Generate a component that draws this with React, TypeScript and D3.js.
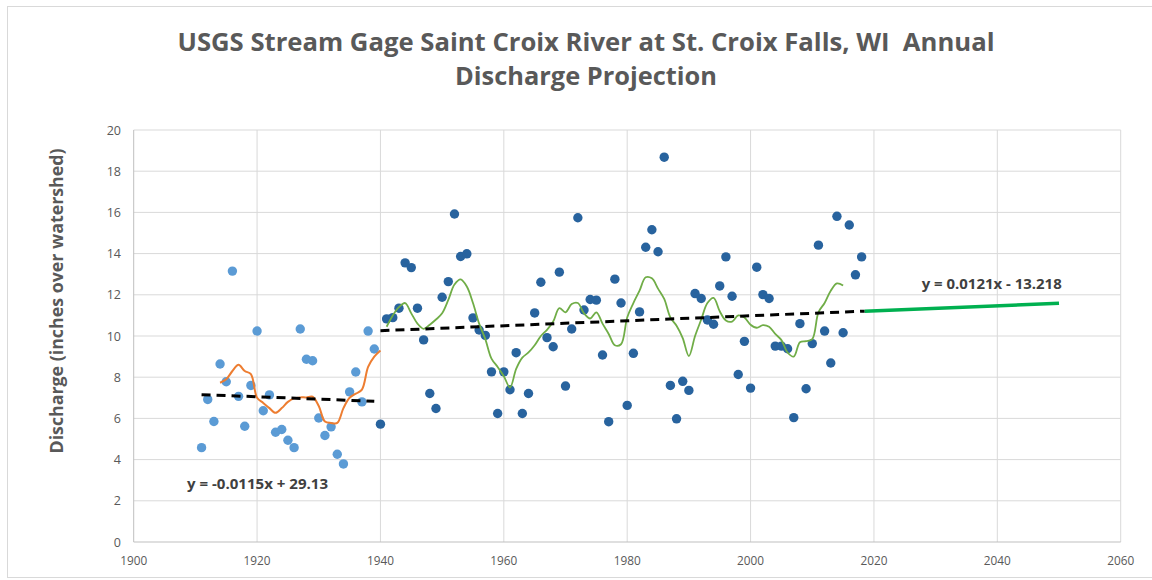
import React from 'react';
import * as d3 from 'd3';

const titleLines = ['USGS Stream Gage Saint Croix River at St. Croix Falls, WI\u00A0\u00A0Annual', 'Discharge Projection'];
const yAxisTitle = 'Discharge (inches over watershed)';

const xTicks = [1900, 1920, 1940, 1960, 1980, 2000, 2020, 2040, 2060];
const yTicks = [0, 2, 4, 6, 8, 10, 12, 14, 16, 18, 20];

const earlyYears = [1911, 1912, 1913, 1914, 1915, 1916, 1917, 1918, 1919, 1920, 1921, 1922, 1923, 1924, 1925, 1926, 1927, 1928, 1929, 1930, 1931, 1932, 1933, 1934, 1935, 1936, 1937, 1938, 1939];
const earlyValues = [4.58, 6.92, 5.85, 8.64, 7.78, 13.15, 7.07, 5.62, 7.6, 10.24, 6.37, 7.14, 5.33, 5.46, 4.94, 4.58, 10.34, 8.87, 8.8, 6.02, 5.17, 5.59, 4.26, 3.79, 7.29, 8.25, 6.8, 10.24, 9.37];

const lateYears = [1940, 1941, 1942, 1943, 1944, 1945, 1946, 1947, 1948, 1949, 1950, 1951, 1952, 1953, 1954, 1955, 1956, 1957, 1958, 1959, 1960, 1961, 1962, 1963, 1964, 1965, 1966, 1967, 1968, 1969, 1970, 1971, 1972, 1973, 1974, 1975, 1976, 1977, 1978, 1979, 1980, 1981, 1982, 1983, 1984, 1985, 1986, 1987, 1988, 1989, 1990, 1991, 1992, 1993, 1994, 1995, 1996, 1997, 1998, 1999, 2000, 2001, 2002, 2003, 2004, 2005, 2006, 2007, 2008, 2009, 2010, 2011, 2012, 2013, 2014, 2015, 2016, 2017, 2018];
const lateValues = [5.72, 10.83, 10.89, 11.35, 13.55, 13.32, 11.35, 9.81, 7.21, 6.48, 11.88, 12.64, 15.92, 13.86, 13.99, 10.88, 10.29, 10.03, 8.26, 6.24, 8.26, 7.39, 9.19, 6.24, 7.21, 11.12, 12.61, 9.92, 9.48, 13.1, 7.57, 10.34, 15.74, 11.26, 11.77, 11.74, 9.08, 5.84, 12.76, 11.6, 6.63, 9.16, 11.17, 14.31, 15.16, 14.09, 18.68, 7.6, 5.98, 7.8, 7.36, 12.06, 11.82, 10.78, 10.57, 12.43, 13.84, 11.93, 8.13, 9.74, 7.47, 13.34, 12.01, 11.82, 9.51, 9.51, 9.38, 6.04, 10.6, 7.44, 9.63, 14.41, 10.24, 8.69, 15.81, 10.16, 15.39, 12.97, 13.84];

const earlyAvgYears = [1914, 1915, 1916, 1917, 1918, 1919, 1920, 1921, 1922, 1923, 1924, 1925, 1926, 1927, 1928, 1929, 1930, 1931, 1932, 1933, 1934, 1935, 1936, 1937, 1938, 1939, 1940];
const earlyAvg = [7.73, 7.9, 8.3, 8.6, 8.3, 8.15, 7.0, 6.75, 6.5, 6.27, 6.5, 6.8, 6.97, 7.02, 7.02, 7.05, 6.6, 5.85, 5.78, 5.78, 6.5, 7.0, 7.2, 7.4, 8.5, 9.0, 9.3];

const lateAvgYears = [1941, 1942, 1943, 1944, 1945, 1946, 1947, 1948, 1949, 1950, 1951, 1952, 1953, 1954, 1955, 1956, 1957, 1958, 1959, 1960, 1961, 1962, 1963, 1964, 1965, 1966, 1967, 1968, 1969, 1970, 1971, 1972, 1973, 1974, 1975, 1976, 1977, 1978, 1979, 1980, 1981, 1982, 1983, 1984, 1985, 1986, 1987, 1988, 1989, 1990, 1991, 1992, 1993, 1994, 1995, 1996, 1997, 1998, 1999, 2000, 2001, 2002, 2003, 2004, 2005, 2006, 2007, 2008, 2009, 2010, 2011, 2012, 2013, 2014, 2015];
const lateAvg = [10.45, 11.0, 11.4, 11.6, 11.1, 10.6, 10.35, 10.55, 10.8, 11.1, 11.75, 12.5, 12.75, 12.4, 11.6, 10.6, 9.85, 8.9, 8.5, 8.05, 7.5, 8.4, 8.95, 9.2, 9.55, 10.0, 10.3, 10.7, 11.35, 11.15, 11.55, 11.6, 11.1, 10.85, 11.15, 10.6, 10.1, 9.55, 9.6, 10.9, 11.6, 12.2, 12.85, 12.8, 12.3, 11.8, 10.9, 10.5, 9.9, 9.03, 10.0, 10.8, 11.6, 11.85, 11.2, 10.75, 10.7, 11.0, 10.9, 10.55, 10.4, 10.53, 10.45, 10.1, 9.8, 9.2, 9.0, 9.7, 9.75, 9.85, 11.15, 11.6, 12.2, 12.55, 12.45];

// trendline equations
const trendEarly = { slope: -0.0115, intercept: 29.13, from: 1911, to: 1939, label: 'y = -0.0115x + 29.13' };
const trendLate = { slope: 0.0121, intercept: -13.218, from: 1940, to: 2018.5, label: 'y = 0.0121x - 13.218' };
const projection = { from: 2018.5, to: 2050 };

const W = 1152;
const H = 580;
const plot = { left: 133.7, right: 1120.7, top: 130, bottom: 542 };

export default function App() {
  const x = d3.scaleLinear().domain([1900, 2060]).range([plot.left, plot.right]);
  const y = d3.scaleLinear().domain([0, 20]).range([plot.bottom, plot.top]);

  const lineGen = d3
    .line<[number, number]>()
    .x((d) => x(d[0]))
    .y((d) => y(d[1]))
    .curve(d3.curveCatmullRom.alpha(0.5));

  const straight = d3
    .line<[number, number]>()
    .x((d) => x(d[0]))
    .y((d) => y(d[1]));

  const earlyAvgPts: [number, number][] = earlyAvgYears.map((yr, i) => [yr, earlyAvg[i]]);
  const lateAvgPts: [number, number][] = lateAvgYears.map((yr, i) => [yr, lateAvg[i]]);

  const trendPts = (t: { slope: number; intercept: number; from: number; to: number }): [number, number][] => [
    [t.from, t.slope * t.from + t.intercept],
    [t.to, t.slope * t.to + t.intercept],
  ];
  const projPts: [number, number][] = [
    [projection.from, trendLate.slope * projection.from + trendLate.intercept],
    [projection.to, trendLate.slope * projection.to + trendLate.intercept],
  ];

  const grey = '#595959';
  const font = "'Open Sans', 'Liberation Sans', sans-serif";

  return (
    <svg width={W} height={H} style={{ position: 'absolute', left: 0, top: 0, background: '#fff' }} fontFamily={font}>
      <rect x={0} y={0} width={W} height={H} fill="#fff" />
      <rect x={7.5} y={6.5} width={1160} height={571} fill="none" stroke="#D9D9D9" strokeWidth={1} />

      {/* title */}
      <text x={586} y={51} textAnchor="middle" fontSize={25} fontWeight={700} fill={grey} textLength={817} lengthAdjust="spacingAndGlyphs" style={{ whiteSpace: 'pre' }}>
        {titleLines[0]}
      </text>
      <text x={586} y={85} textAnchor="middle" fontSize={25} fontWeight={700} fill={grey} textLength={262} lengthAdjust="spacingAndGlyphs">
        {titleLines[1]}
      </text>

      {/* gridlines */}
      {yTicks.filter((t) => t > 0).map((t) => (
        <line key={'hy' + t} x1={plot.left} x2={plot.right} y1={y(t)} y2={y(t)} stroke="#D9D9D9" strokeWidth={1} />
      ))}
      {xTicks.filter((t) => t > 1900).map((t) => (
        <line key={'vx' + t} x1={x(t)} x2={x(t)} y1={plot.top} y2={plot.bottom} stroke="#D9D9D9" strokeWidth={1} />
      ))}
      {/* axes */}
      <line x1={plot.left} x2={plot.left} y1={plot.top} y2={plot.bottom} stroke="#BFBFBF" strokeWidth={1} />
      <line x1={plot.left} x2={plot.right} y1={plot.bottom} y2={plot.bottom} stroke="#BFBFBF" strokeWidth={1} />

      {/* tick labels */}
      {yTicks.map((t) => (
        <text key={'ly' + t} x={121} y={y(t) + 4.5} textAnchor="end" fontSize={12.5} fill={grey}>
          {t}
        </text>
      ))}
      {xTicks.map((t) => (
        <text key={'lx' + t} x={x(t)} y={565} textAnchor="middle" fontSize={12.5} fill={grey} textLength={27} lengthAdjust="spacingAndGlyphs">
          {t}
        </text>
      ))}

      {/* y-axis title */}
      <text
        transform={`translate(63,${(plot.top + plot.bottom) / 2 - 35}) rotate(-90)`}
        textAnchor="middle"
        fontSize={17}
        fontWeight={700}
        fill={grey}
        textLength={305}
        lengthAdjust="spacingAndGlyphs"
      >
        {yAxisTitle}
      </text>

      {/* points */}
      {earlyYears.map((yr, i) => (
        <circle key={'e' + yr} cx={x(yr)} cy={y(earlyValues[i])} r={4.7} fill="#5B9BD5" />
      ))}
      {lateYears.map((yr, i) => (
        <circle key={'l' + yr} cx={x(yr)} cy={y(lateValues[i])} r={4.7} fill="#28639E" />
      ))}

      {/* moving averages */}
      <path d={lineGen(earlyAvgPts) || ''} fill="none" stroke="#ED7D31" strokeWidth={2} />
      <path d={lineGen(lateAvgPts) || ''} fill="none" stroke="#70AD47" strokeWidth={1.8} />

      {/* trendlines */}
      <path d={straight(trendPts(trendEarly)) || ''} fill="none" stroke="#000" strokeWidth={3} strokeDasharray="9,6" />
      <path d={straight(trendPts(trendLate)) || ''} fill="none" stroke="#000" strokeWidth={3} strokeDasharray="9,6" />
      <path d={straight(projPts) || ''} fill="none" stroke="#00B050" strokeWidth={3.5} />

      {/* equation labels */}
      <text x={257.5} y={489} textAnchor="middle" fontSize={13.5} fontWeight={700} fill="#404040" textLength={141} lengthAdjust="spacingAndGlyphs">
        {trendEarly.label}
      </text>
      <text x={991.7} y={288.5} textAnchor="middle" fontSize={13.5} fontWeight={700} fill="#404040" textLength={140} lengthAdjust="spacingAndGlyphs">
        {trendLate.label}
      </text>
    </svg>
  );
}
